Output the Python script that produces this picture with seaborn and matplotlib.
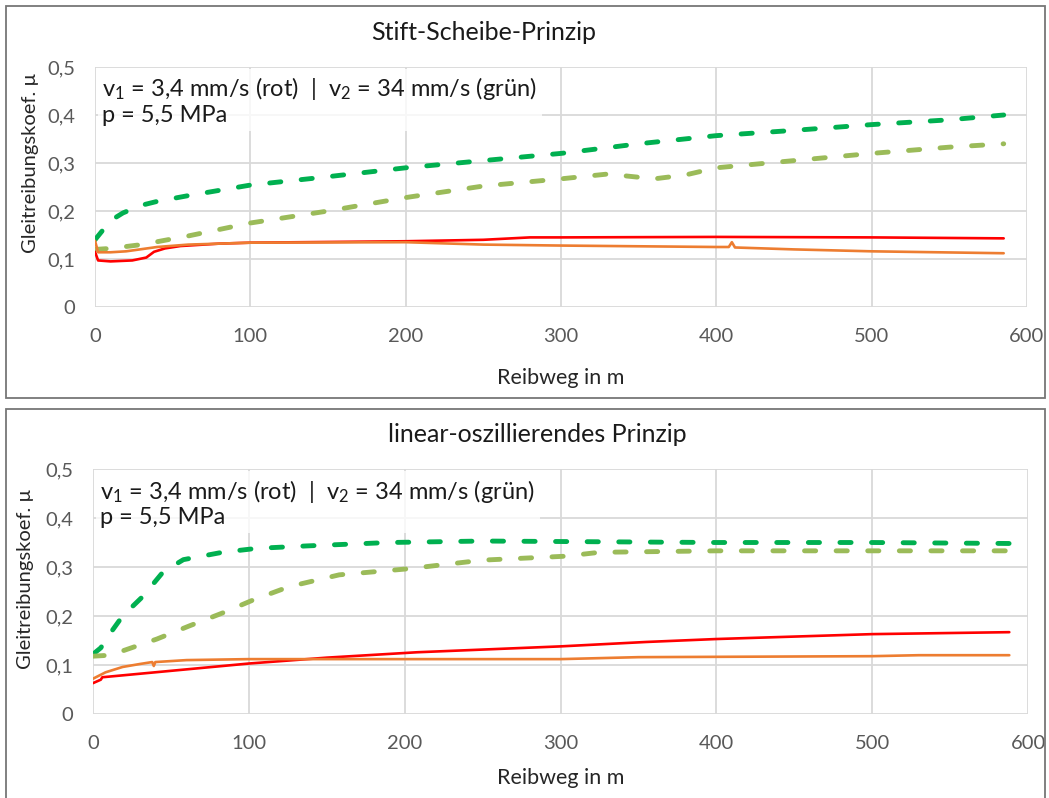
import matplotlib
matplotlib.use("Agg")
import matplotlib.pyplot as plt
import seaborn as sns
import pandas as pd
from matplotlib.patches import Rectangle

# ---------------- data ----------------
titles = ["Stift-Scheibe-Prinzip", "linear-oszillierendes Prinzip"]
x_ticks = [0, 100, 200, 300, 400, 500, 600]
y_ticks = [0, 0.1, 0.2, 0.3, 0.4, 0.5]
y_tick_labels = ["0", "0,1", "0,2", "0,3", "0,4", "0,5"]

# top panel (Stift-Scheibe)
top_dg_x = [0, 5, 10, 18, 30, 40, 60, 100, 146, 200, 250, 300, 350, 400, 450, 500, 550, 585]
top_dg_y = [0.14, 0.16, 0.18, 0.196, 0.212, 0.22, 0.232, 0.254, 0.27, 0.29, 0.305, 0.32, 0.34, 0.357, 0.368, 0.38, 0.39, 0.40]
top_lg_x = [0, 10, 30, 60, 100, 150, 200, 250, 300, 330, 345, 360, 380, 400, 450, 500, 550, 585]
top_lg_y = [0.12, 0.122, 0.13, 0.148, 0.175, 0.2, 0.228, 0.252, 0.267, 0.277, 0.272, 0.267, 0.275, 0.29, 0.305, 0.32, 0.333, 0.34]
top_rd_x = [0, 2, 10, 24, 33, 38, 45, 55, 80, 100, 200, 250, 280, 300, 400, 500, 585]
top_rd_y = [0.115, 0.097, 0.095, 0.097, 0.103, 0.115, 0.122, 0.127, 0.132, 0.134, 0.137, 0.14, 0.145, 0.145, 0.146, 0.145, 0.143]
top_or_x = [0, 2, 10, 20, 40, 60, 100, 200, 250, 300, 400, 408, 410, 412, 450, 500, 585]
top_or_y = [0.138, 0.114, 0.114, 0.116, 0.125, 0.13, 0.134, 0.135, 0.13, 0.128, 0.125, 0.125, 0.135, 0.124, 0.12, 0.116, 0.112]

# bottom panel (linear-oszillierend)
bot_dg_x = [0, 5, 10, 19, 32, 45, 58, 83, 105, 137, 190, 250, 300, 400, 500, 588]
bot_dg_y = [0.122, 0.135, 0.16, 0.2, 0.24, 0.29, 0.315, 0.33, 0.338, 0.343, 0.35, 0.353, 0.352, 0.35, 0.35, 0.348]
bot_lg_x = [0, 11, 41, 62, 83, 103, 126, 158, 201, 250, 303, 325, 400, 500, 588]
bot_lg_y = [0.118, 0.12, 0.153, 0.18, 0.206, 0.233, 0.26, 0.284, 0.296, 0.314, 0.322, 0.33, 0.333, 0.333, 0.333]
bot_rd_x = [0, 5, 6, 100, 150, 208, 300, 355, 400, 500, 588]
bot_rd_y = [0.063, 0.07, 0.075, 0.103, 0.115, 0.126, 0.138, 0.147, 0.153, 0.163, 0.167]
bot_or_x = [0, 8, 19, 30, 38, 39, 40, 60, 100, 200, 300, 350, 500, 530, 588]
bot_or_y = [0.072, 0.085, 0.096, 0.102, 0.106, 0.098, 0.106, 0.11, 0.112, 0.112, 0.112, 0.116, 0.118, 0.12, 0.12]

annot_line1 = r"v$_1$ = 3,4 mm/s (rot)  |  v$_2$ = 34 mm/s (grün)"
annot_line2 = "p = 5,5 MPa"
xlabel = "Reibweg in m"
ylabel = "Gleitreibungskoef. µ"

# ---------------- style ----------------
sns.set_theme(style="white")
plt.rcParams["font.family"] = ["Lato", "DejaVu Sans"]
plt.rcParams["mathtext.fontset"] = "custom"
plt.rcParams["mathtext.rm"] = "Lato"
plt.rcParams["mathtext.it"] = "Lato"

C_DG = "#00B050"
C_LG = "#9BBB59"
C_RD = "#FF0000"
C_OR = "#ED7D31"
GRID = "#D9D9D9"
TICKC = "#595959"

fig = plt.figure(figsize=(10.49, 7.98), dpi=100)
W, H = 1049, 798

def fx(px):
    return px / W

def fy(py):
    return 1 - py / H

# panel borders
fig.patches.append(Rectangle((fx(6), fy(398)), fx(1045 - 6), fy(6) - fy(398),
                             transform=fig.transFigure, fill=False,
                             edgecolor="#767676", linewidth=1.3, zorder=0))
fig.patches.append(Rectangle((fx(6), fy(800)), fx(1045 - 6), fy(409) - fy(800),
                             transform=fig.transFigure, fill=False,
                             edgecolor="#767676", linewidth=1.3, zorder=0))

ax_top = fig.add_axes([fx(95), fy(307), fx(1027 - 95), fy(67) - fy(307)])
ax_bot = fig.add_axes([fx(93), fy(714), fx(1028 - 93), fy(469) - fy(714)])

panels = [
    (ax_top, [(top_dg_x, top_dg_y, C_DG, "d"), (top_lg_x, top_lg_y, C_LG, "d"),
              (top_rd_x, top_rd_y, C_RD, "s"), (top_or_x, top_or_y, C_OR, "s")]),
    (ax_bot, [(bot_dg_x, bot_dg_y, C_DG, "d"), (bot_lg_x, bot_lg_y, C_LG, "d"),
              (bot_rd_x, bot_rd_y, C_RD, "s"), (bot_or_x, bot_or_y, C_OR, "s")]),
]

title_pos = [(484, 32), (537, 434)]
xlabel_pads = [17, 12]

for i, (ax, series) in enumerate(panels):
    for xs, ys, col, kind in series:
        df = pd.DataFrame({"x": xs, "y": ys})
        if kind == "d":
            sns.lineplot(data=df, x="x", y="y", ax=ax, color=col, linewidth=3.5,
                         linestyle=(0, (2.3, 4.2)), dash_capstyle="round", zorder=3)
        else:
            sns.lineplot(data=df, x="x", y="y", ax=ax, color=col, linewidth=1.9, zorder=4)
    ax.set_xlim(0, 600)
    ax.set_ylim(0, 0.5)
    ax.set_xticks(x_ticks)
    ax.set_xticklabels([str(t) for t in x_ticks])
    ax.set_yticks(y_ticks)
    ax.set_yticklabels(y_tick_labels)
    ax.grid(True, color=GRID, linewidth=1.3)
    ax.set_axisbelow(True)
    for s in ax.spines.values():
        s.set_visible(False)
    ax.tick_params(axis="both", length=0, labelsize=14.5, labelcolor=TICKC)
    ax.tick_params(axis="x", pad=15)
    ax.tick_params(axis="y", pad=14)
    ax.set_xlabel(xlabel, fontsize=15.5, color="#262626", labelpad=xlabel_pads[i])
    ax.set_ylabel(ylabel, fontsize=14.5, color="#262626")
    tx, ty = title_pos[i]
    fig.text(fx(tx), fy(ty), titles[i], ha="center", va="center",
             fontsize=18, color="#1a1a1a")
    ax.text(0.008, 0.965, annot_line1 + "\n" + annot_line2, transform=ax.transAxes,
            ha="left", va="top", fontsize=17, color="#1a1a1a", linespacing=1.15,
            zorder=5,
            bbox=dict(boxstyle="square,pad=0.2", facecolor="white", edgecolor="none", alpha=0.8))

ax_top.yaxis.set_label_coords(-0.06, 0.6)
ax_bot.yaxis.set_label_coords(-0.063, 0.55)

fig.savefig("out.png", dpi=100)
